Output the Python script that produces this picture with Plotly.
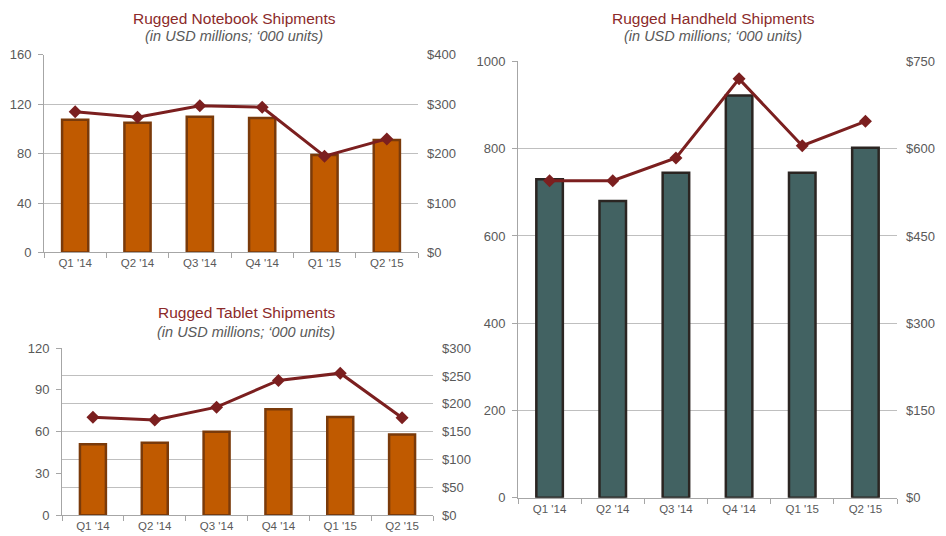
import plotly.graph_objects as go

quarters = ["Q1 '14", "Q2 '14", "Q3 '14", "Q4 '14", "Q1 '15", "Q2 '15"]

notebook_units = [107.5, 105, 110, 109, 79, 91]
notebook_usd = [285, 274, 297, 294, 195, 230]

tablet_units = [51, 52, 60, 76, 70.5, 58]
tablet_usd = [176, 171, 194, 242, 255, 175]

handheld_units = [730, 680, 745, 922, 745, 802]
handheld_usd = [545, 545, 584, 720, 605, 647]

W, H = 946, 536
TITLE_C = "#8B2A2A"
SUB_C = "#595959"
TICK_C = "#595959"
GRID_C = "#BFBFBF"
AXIS_C = "#A6A6A6"
LINE_C = "#7B1F1F"
ORANGE = "#C05A00"
ORANGE_EDGE = "#7A3A0A"
TEAL = "#426262"
TEAL_EDGE = "#2B2522"
FONT = "Liberation Sans, Arial, sans-serif"

# the captured page maps page-y to picture-y as  pic = 6.5 + 0.974 * page
def fy(y):
    return (y - 6.5) / 0.974

def px_x(a, b):
    return [a / W, b / W]

def px_y(top, bottom):
    return [1 - fy(bottom) / H, 1 - fy(top) / H]

fig = go.Figure()

panels = [
    (notebook_units, notebook_usd, "x", "y", "y2", ORANGE, ORANGE_EDGE, px_x(44, 418), px_y(54.5, 252.5)),
    (tablet_units, tablet_usd, "x2", "y3", "y4", ORANGE, ORANGE_EDGE, px_x(62, 433), px_y(348.3, 515.7)),
    (handheld_units, handheld_usd, "x3", "y5", "y6", TEAL, TEAL_EDGE, px_x(518, 897), px_y(61, 498.3)),
]

for units, usd, xa, yl, yr, col, edge, xd, yd in panels:
    fig.add_trace(go.Bar(x=quarters, y=units, xaxis=xa, yaxis=yl, width=0.42,
                         marker=dict(color=col, line=dict(color=edge, width=2.5)),
                         showlegend=False, hoverinfo="skip"))
    fig.add_trace(go.Scatter(x=quarters, y=usd, xaxis=xa, yaxis=yr, mode="lines+markers",
                             line=dict(color=LINE_C, width=3),
                             marker=dict(symbol="diamond", size=10, color=LINE_C),
                             showlegend=False, hoverinfo="skip"))

def xaxis(dom, anchor):
    return dict(domain=dom, anchor=anchor, type="category", showline=True, linecolor=AXIS_C,
                linewidth=1, ticks="outside", tickson="boundaries", ticklen=5, tickcolor=AXIS_C,
                tickfont=dict(size=11.5, color=TICK_C, family=FONT), showgrid=False,
                fixedrange=True)

def yleft(dom, anchor, rng, dtick, grid):
    return dict(domain=dom, anchor=anchor, range=rng, dtick=dtick, showline=True,
                linecolor=AXIS_C, linewidth=1, ticks="outside", ticklen=5, tickcolor=AXIS_C,
                showgrid=grid, gridcolor=GRID_C, gridwidth=1, zeroline=False,
                ticklabelstandoff=4,
                tickfont=dict(size=13, color=TICK_C, family=FONT))

def yright(overlay, anchor, rng, dtick, grid):
    return dict(overlaying=overlay, anchor=anchor, side="right", range=rng, dtick=dtick,
                tickprefix="$", showline=False, ticks="", showgrid=grid, gridcolor=GRID_C,
                zeroline=False, ticklabelstandoff=8,
                tickfont=dict(size=13, color=TICK_C, family=FONT))

fig.update_layout(
    width=W, height=H, margin=dict(l=0, r=0, t=0, b=0),
    paper_bgcolor="white", plot_bgcolor="white",
    font=dict(family=FONT),
    xaxis=xaxis(panels[0][7], "y"),
    yaxis=yleft(panels[0][8], "x", [0, 160], 40, True),
    yaxis2=yright("y", "x", [0, 400], 100, False),
    xaxis2=xaxis(panels[1][7], "y3"),
    yaxis3=yleft(panels[1][8], "x2", [0, 120], 30, False),
    yaxis4=yright("y3", "x2", [0, 300], 50, True),
    xaxis3=xaxis(panels[2][7], "y5"),
    yaxis5=yleft(panels[2][8], "x3", [0, 1000], 200, True),
    yaxis6=yright("y5", "x3", [0, 750], 150, False),
)

titles = [
    ("Rugged Notebook Shipments", 234, 18.3, 36),
    ("Rugged Tablet Shipments", 246, 312.7, 332),
    ("Rugged Handheld Shipments", 713, 18.3, 36),
]
for t, cx, ty, sy in titles:
    fig.add_annotation(text=t, x=cx / W, y=1 - fy(ty) / H, xref="paper", yref="paper",
                       showarrow=False, xanchor="center", yanchor="middle",
                       font=dict(size=15.5, color=TITLE_C, family=FONT))
    fig.add_annotation(text="<i>(in USD millions; \u2018000 units)</i>", x=cx / W, y=1 - fy(sy) / H,
                       xref="paper", yref="paper", showarrow=False, xanchor="center",
                       yanchor="middle", font=dict(size=14.5, color=SUB_C, family=FONT))

fig.write_html("out.html")
